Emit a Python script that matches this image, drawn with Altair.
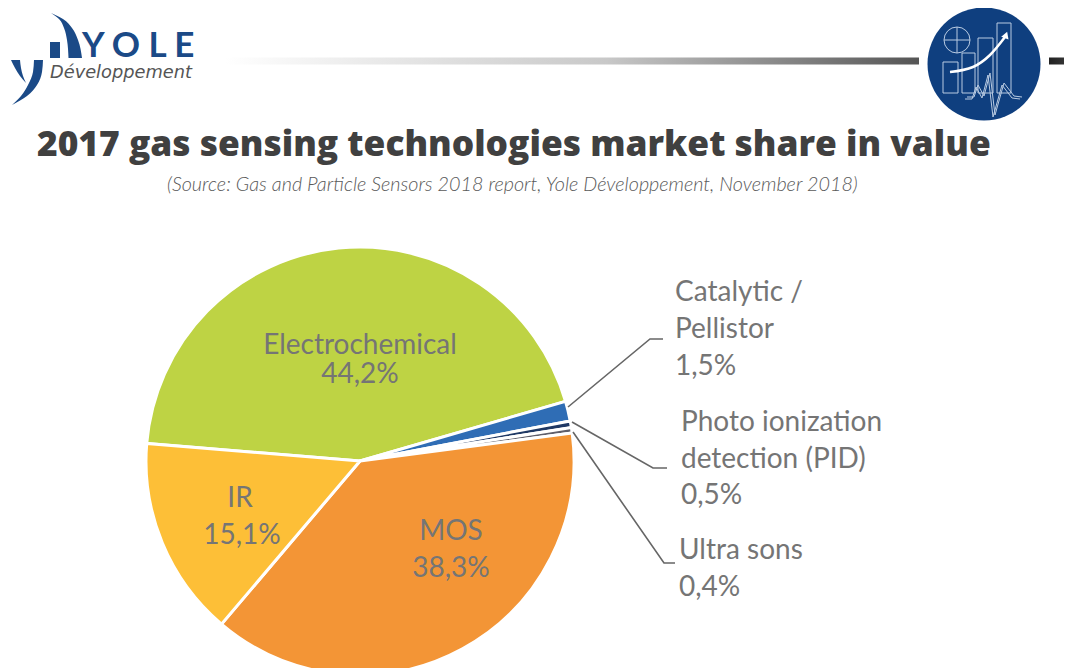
import altair as alt
import pandas as pd
import math

# Pie values
categories = ["Electrochemical", "Catalytic / Pellistor", "Photo ionization detection (PID)", "Ultra sons", "MOS", "IR"]
shares = [44.2, 1.5, 0.5, 0.4, 38.3, 15.1]
pie_colors = ["#BED344", "#2F6DB5", "#1F3864", "#5F5F6B", "#F39536", "#FDBF37"]

# Text
title_text = "2017 gas sensing technologies market share in value"
source_text = "(Source: Gas and Particle Sensors 2018 report, Yole Développement, November 2018)"
label_text = ["Electrochemical", "44,2%", "IR", "15,1%", "MOS", "38,3%"]
label_x = [360, 360, 240, 242, 451, 451]
label_y = [346, 375, 499, 536, 532, 569]
side_text = ["Catalytic /", "Pellistor", "1,5%", "Photo ionization", "detection (PID)", "0,5%", "Ultra sons", "0,4%"]
side_x = [675, 675, 675, 681, 681, 681, 679, 679]
side_y = [293, 330, 367, 423, 460, 496, 551, 588]

# Leader lines
leader_id = [0, 0, 0, 1, 1, 1, 2, 2, 2]
leader_x = [568, 650, 663, 572, 653, 667, 573, 664, 675]
leader_y = [407, 339, 339, 422, 468, 468, 432, 563, 563]

W, H = 1056, 660
sx = alt.Scale(domain=[8, 8 + W], range=[0, W], nice=False, zero=False)
sy = alt.Scale(domain=[8, 8 + H], range=[0, H], nice=False, zero=False)
X = lambda f: alt.X(f, type="quantitative", scale=sx, axis=None)
Y = lambda f: alt.Y(f, type="quantitative", scale=sy, axis=None)
X2 = lambda f: alt.X2(f)
Y2 = lambda f: alt.Y2(f)


def texts(words, xs, ys, color, size, font="Lato", weight="normal", style="normal", align="left"):
    df = pd.DataFrame({"t": words, "x": xs, "y": ys})
    return alt.Chart(df).mark_text(color=color, fontSize=size, font=font, fontWeight=weight,
                                   fontStyle=style, align=align, baseline="middle").encode(
        x=X("x"), y=Y("y"), text="t:N")


def swoosh(ys, left, right, color):
    df = pd.DataFrame({"y": ys, "a": left, "b": right})
    return alt.Chart(df).mark_area(orient="horizontal", color=color, interpolate="monotone").encode(
        y=Y("y"), x=X("a"), x2=X2("b"))


def bar(x0, x1, y0, y1, fill):
    df = pd.DataFrame({"a": [x0], "b": [x1], "c": [y0], "d": [y1]})
    return alt.Chart(df).mark_rect(color=fill).encode(x=X("a"), x2=X2("b"), y=Y("c"), y2=Y2("d"))


def path(xs, ys, color, width, interpolate="linear"):
    df = pd.DataFrame({"x": xs, "y": ys, "i": range(len(xs))})
    return alt.Chart(df).mark_line(color=color, strokeWidth=width, interpolate=interpolate).encode(
        x=X("x"), y=Y("y"), order="i:Q")


# Pie
start = math.radians(-85.3)
pie_df = pd.DataFrame({"cat": categories, "share": shares, "idx": range(len(shares))})
pie = alt.Chart(pie_df).mark_arc(outerRadius=214, stroke="white", strokeWidth=3).encode(
    theta=alt.Theta("share:Q", stack=True, scale=alt.Scale(range=[start, start + 2 * math.pi]), sort=None),
    color=alt.Color("cat:N", scale=alt.Scale(domain=categories, range=pie_colors), legend=None),
    order=alt.Order("idx:Q"),
    x=alt.value(352), y=alt.value(453),
)

leaders = alt.Chart(pd.DataFrame({"x": leader_x, "y": leader_y, "id": leader_id, "i": range(len(leader_x))})).mark_line(
    color="#666666", strokeWidth=1.6).encode(x=X("x"), y=Y("y"), detail="id:N", order="i:Q")

# Header rule
left_grad = alt.Gradient(gradient="linear", x1=0, x2=1, y1=0, y2=0,
                         stops=[alt.GradientStop(color="#FFFFFF", offset=0),
                                alt.GradientStop(color="#C8C8C8", offset=0.55),
                                alt.GradientStop(color="#555555", offset=1)])
right_grad = alt.Gradient(gradient="linear", x1=0, x2=1, y1=0, y2=0,
                          stops=[alt.GradientStop(color="#222222", offset=0),
                                 alt.GradientStop(color="#333333", offset=1)])
header = [bar(225, 919, 57.5, 64.5, left_grad), bar(1049, 1064, 57.5, 64.5, right_grad)]

# Yole logo
BLUE = "#1B4A87"
logo = [
    swoosh([13, 19, 28, 40, 58], [51, 59, 64, 67, 68.5], [51, 63, 72, 78, 82], BLUE),
    bar(50, 60, 42, 58, BLUE),
    swoosh([60, 68, 76, 83], [11, 15, 20, 26], [20, 21, 23, 26], BLUE),
    swoosh([60, 72, 85, 96, 105], [34, 33, 28, 21, 12], [43, 42, 37, 27, 12], BLUE),
]
logo_t = texts(["Y O L E"], [82], [46], BLUE, 35, font="Lato", weight="bold")
dev_t = texts(["Développement"], [50], [73], "#555555", 17.8, font="DejaVu Sans", style="italic")

# Round icon
ICON = "#0F3F7F"
LINE = "#B9CBE2"
icon_disc = alt.Chart(pd.DataFrame({"x": [984], "y": [64]})).mark_point(
    filled=True, shape="circle", size=12769, color=ICON, opacity=1).encode(x=X("x"), y=Y("y"))
icon_ring = alt.Chart(pd.DataFrame({"x": [957], "y": [40]})).mark_point(
    filled=False, shape="circle", size=676, color=LINE, strokeWidth=1, opacity=1).encode(x=X("x"), y=Y("y"))
icon_parts = [
    path([944, 970], [40, 40], LINE, 1),
    path([957, 957], [27, 53], LINE, 1),
]
for x0, x1, y0 in [(943, 958, 62), (962, 975, 53), (978, 993, 38), (997, 1011, 23)]:
    icon_parts.append(path([x0, x1, x1, x0, x0], [y0, y0, 93, 93, y0], LINE, 1))
ecg_x = [965, 972, 976, 982, 988, 993, 1002, 1012, 1020]
ecg_y = [99, 99, 87, 98, 75, 117, 85, 98, 99]
icon_parts.append(path(ecg_x, ecg_y, LINE, 1))
icon_parts.append(path([x + 2 for x in ecg_x], [y - 2 for y in ecg_y], LINE, 1))
icon_parts.append(path([950, 973, 990, 1005], [72, 67, 55, 37], "#FFFFFF", 2.5, "monotone"))
icon_head = alt.Chart(pd.DataFrame({"x": [1006], "y": [35]})).mark_point(
    filled=True, shape="triangle-up", size=60, angle=20, color="#FFFFFF", opacity=1).encode(x=X("x"), y=Y("y"))

title_t = texts([title_text], [37], [144.5], "#404040", 35.3, font="Open Sans", weight=800)
source_t = texts([source_text], [167], [185], "#5A5A5A", 19.8, font="Lato", style="italic", weight=300)
labels_t = texts(label_text, label_x, label_y, "#757575", 28, align="center")
side_t = texts(side_text, side_x, side_y, "#757575", 28)

chart = alt.layer(
    *header, icon_disc, icon_ring, *icon_parts, icon_head,
    *logo, logo_t, dev_t, title_t, source_t,
    pie, leaders, labels_t, side_t,
).resolve_scale(color="independent", theta="independent").properties(
    width=W, height=H, padding=0, autosize=alt.AutoSizeParams(type="none")
).configure_view(stroke=None)

chart.save("out.html", embed_options={"renderer": "svg", "actions": False})
